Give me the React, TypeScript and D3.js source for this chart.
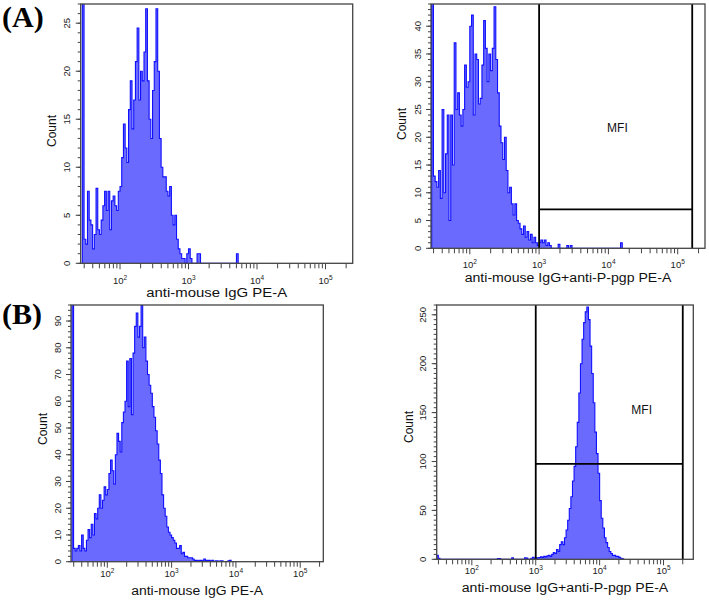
import React from 'react';
import * as d3 from 'd3';

// Histogram bins: log10 start and width of each channel bin
const BIN_START = 1.45;
const BIN_WIDTH = 0.025;

// (A) isotype control: anti-mouse IgG PE-A
const a1Counts = [
  100, 2.5, 2, 7.5, 4.5, 4, 1.5, 3, 7.8, 3.5,
  3, 4.5, 6, 7.5, 5.5, 7.5, 3.5, 6.5, 7, 6,
  5.5, 7.5, 8, 11, 14.5, 12, 10.5, 16, 19, 14,
  17, 21, 24.5, 17, 20, 19, 22, 26.5, 19, 15,
  13, 18, 21, 26.5, 20, 13, 10, 9, 9, 7.5,
  7, 8, 5, 4, 5, 2.5, 1.5, 1, 0.5, 0.5,
  0, 1, 1.5, 0.5, 0, 0, 0, 1, 1, 0,
  0, 0, 0, 0, 0, 0, 0, 0, 0, 0,
  0, 0, 0, 0, 0, 0, 0, 0, 0, 0,
  1,
];

// (A) anti-mouse IgG + anti-P-gp PE-A
const a2Counts = [
  100, 13, 12, 11, 14, 9, 25, 10, 17, 24,
  5, 24, 15, 37, 25, 28, 24, 22, 25, 33,
  29, 30, 40, 42, 24, 35, 34, 26, 27, 33,
  41, 36, 30, 35, 32, 36, 43.5, 34, 28, 22,
  19, 16, 20, 14, 10, 11, 8, 6, 8, 5,
  4.5, 3.5, 2.5, 4, 2, 3, 1.5, 2.5, 1, 2,
  1, 0.5, 1, 1.5, 1, 1.5, 0.5, 1, 0.5, 0,
  0, 0, 0, 0.7, 0, 0, 0, 0, 0.5, 0,
  0.5, 0, 0, 0, 0, 0, 0, 0, 0, 0,
  0, 0, 0, 0, 0, 0, 0, 0, 0, 0,
  0, 0, 0, 0, 0, 0, 0, 0, 0, 1,
];

// (B) isotype control: anti-mouse IgG PE-A
const b1Counts = [
  150, 5, 4, 5, 6, 4, 10, 5, 4, 8,
  12, 9, 14, 10, 18, 16, 20, 25, 20, 23,
  28, 25, 27, 33, 38, 34, 29, 40, 48, 45,
  41, 52, 56, 60, 75, 58, 76, 55, 78, 88,
  93, 84, 88, 96, 80, 84, 75, 70, 66, 63,
  58, 54, 49, 44, 38, 33, 25, 20, 17, 13,
  11, 10, 9, 8, 7, 5, 5, 6, 3, 3.5,
  2, 2, 1.5, 1.5, 1.5, 1, 0.5, 0.5, 0.3, 0.5,
  0.5, 0.3, 1, 0.5, 0.5, 0.5, 0.3, 0.5, 0, 0.3,
  0.3, 0, 0.3, 0.3, 0, 0, 0, 0.3, 0.5,
];

// (B) anti-mouse IgG + anti-P-gp PE-A
const b2Counts = [
  4, 1, 0, 0, 0, 0, 0, 0, 0, 0,
  0, 0, 0, 0, 0, 0, 0, 0, 0, 0,
  0, 0, 0, 0, 0, 0, 0, 0, 0, 0,
  0, 0, 0, 0, 0, 0, 0, 0, 0.8, 0.8,
  0, 0, 0, 0, 0, 0, 0, 1.5, 0, 0,
  0, 0, 0, 0, 0, 1.5, 1.2, 0, 0, 1,
  2, 1, 1.5, 1.5, 1.8, 2.5, 2, 3, 2.5, 3.5,
  4, 3, 5, 7, 6, 10, 8, 15, 18, 15,
  22, 30, 40, 52, 64, 80, 95, 115, 140, 170,
  200, 225, 242, 253, 258, 245, 218, 190, 160, 130,
  108, 88, 60, 42, 32, 22, 17, 12, 8, 6,
  4, 4, 3, 3, 2, 1, 0.5,
];

// MFI gates: [x from, x to] and gate level (count)
const a2GateX = [1000, 162000];
const a2GateY = 7;
const b2GateX = [1000, 200000];
const b2GateY = 97.5;

const panelLetters = ['(A)', '(B)'];
const isotypeTitle = 'anti-mouse IgG PE-A';
const pgpTitle = 'anti-mouse IgG+anti-P-pgp PE-A';
const yTitle = 'Count';
const gateLabel = 'MFI';
const decadeExps = [2, 3, 4, 5];

const SANS = '"Liberation Sans", Arial, Helvetica, sans-serif';
const FILL = '#6a6aff';
const STROKE = '#1010ff';

type PanelProps = {
  id: string;
  left: number; top: number; right: number; bottom: number;
  logLo: number; logHi: number;
  yMax: number; yMajor: number; yMinor: number;
  counts: number[];
  title: string; titleWidth: number; titleDy: number; tickDy: number;
  countX: number; countY: number;
  gateX?: number[]; gateY?: number; mfi?: [number, number];
};

function Panel(p: PanelProps) {
  const x = d3.scaleLog().domain([10 ** p.logLo, 10 ** p.logHi]).range([p.left, p.right]);
  const y = d3.scaleLinear().domain([0, p.yMax]).range([p.bottom, p.top]);

  const pts: [number, number][] = [];
  pts.push([10 ** BIN_START, 0]);
  p.counts.forEach((c, i) => {
    const x0 = 10 ** (BIN_START + i * BIN_WIDTH);
    const x1 = 10 ** (BIN_START + (i + 1) * BIN_WIDTH);
    pts.push([x0, c]);
    pts.push([x1, c]);
  });
  pts.push([10 ** (BIN_START + p.counts.length * BIN_WIDTH), 0]);

  const area = d3.area<[number, number]>().x(d => x(d[0])).y0(y(0)).y1(d => y(d[1]));
  const line = d3.line<[number, number]>().x(d => x(d[0])).y(d => y(d[1]));

  const xTicks: { v: number; major: boolean }[] = [];
  for (let n = 1; n <= 5; n++) {
    for (let m = 1; m <= 9; m++) {
      const v = m * 10 ** n;
      if (v >= 10 ** p.logLo && v <= 10 ** p.logHi) xTicks.push({ v, major: m === 1 });
    }
  }
  const yMinorTicks = d3.range(0, p.yMax + 1e-9, p.yMinor);
  const yMajorTicks = d3.range(0, p.yMax + 1e-9, p.yMajor);
  const cx = (p.left + p.right) / 2;

  return (
    <g>
      <defs>
        <clipPath id={`clip-${p.id}`}>
          <rect x={p.left} y={p.top} width={p.right - p.left} height={p.bottom - p.top} />
        </clipPath>
      </defs>
      <g clipPath={`url(#clip-${p.id})`}>
        <path d={area(pts) || ''} fill={FILL} />
        <path d={line(pts) || ''} fill="none" stroke={STROKE} strokeWidth={1.1} strokeLinejoin="miter" />
      </g>
      {p.gateX && p.gateY !== undefined && (
        <g stroke="#000" strokeWidth={1.8} fill="none">
          <line x1={x(p.gateX[0])} x2={x(p.gateX[0])} y1={p.top} y2={p.bottom} />
          <line x1={x(p.gateX[1])} x2={x(p.gateX[1])} y1={p.top} y2={p.bottom} />
          <line x1={x(p.gateX[0])} x2={x(p.gateX[1])} y1={y(p.gateY)} y2={y(p.gateY)} />
        </g>
      )}
      {p.mfi && (
        <text x={x(p.mfi[0])} y={y(p.mfi[1])} fontFamily={SANS} fontSize={12} textAnchor="middle" fill="#111">
          {gateLabel}
        </text>
      )}
      <rect x={p.left} y={p.top} width={p.right - p.left} height={p.bottom - p.top} fill="none" stroke="#444" strokeWidth={1.3} />
      {/* x ticks */}
      <g stroke="#444" strokeWidth={1}>
        {xTicks.map((t, i) => (
          <line key={i} x1={x(t.v)} x2={x(t.v)} y1={p.bottom} y2={p.bottom + (t.major ? 6 : 5)} />
        ))}
      </g>
      {decadeExps.map(e => (
        <text key={e} x={x(10 ** e)} y={p.bottom + p.tickDy} fontFamily={SANS} fontSize={9.5} textAnchor="middle" fill="#222">
          10<tspan fontSize={6.5} dy={-4}>{e}</tspan>
        </text>
      ))}
      {/* y ticks */}
      <g stroke="#444" strokeWidth={1}>
        {yMinorTicks.map((v, i) => (
          <line key={i} x1={p.left - 3} x2={p.left} y1={y(v)} y2={y(v)} />
        ))}
        {yMajorTicks.map((v, i) => (
          <line key={'M' + i} x1={p.left - 5} x2={p.left} y1={y(v)} y2={y(v)} />
        ))}
      </g>
      {yMajorTicks.map((v, i) => (
        <text key={i} transform={`translate(${p.left - 10.5},${y(v)}) rotate(-90)`} fontFamily={SANS} fontSize={9.5} textAnchor="middle" fill="#222">
          {v}
        </text>
      ))}
      <text transform={`translate(${p.countX + 4.3},${p.countY}) rotate(-90)`} fontFamily={SANS} fontSize={12} textAnchor="middle" fill="#111">
        {yTitle}
      </text>
      <text x={cx} y={p.bottom + p.titleDy} fontFamily={SANS} fontSize={12.5} textAnchor="middle" fill="#111"
        textLength={p.titleWidth} lengthAdjust="spacingAndGlyphs">
        {p.title}
      </text>
    </g>
  );
}

export default function App() {
  return (
    <svg width={709} height={600} style={{ position: 'absolute', left: 0, top: 0, background: '#fff' }}>
      <rect width={709} height={600} fill="#fff" />
      <Panel id="a1" left={80.7} top={4} right={352.7} bottom={263.3} logLo={1.426} logHi={5.397}
        yMax={27} yMajor={5} yMinor={1} counts={a1Counts}
        title={isotypeTitle} titleWidth={141} titleDy={33.5} tickDy={20.5} countX={51.7} countY={131} />
      <Panel id="a2" left={431} top={4} right={705} bottom={248.3} logLo={1.44} logHi={5.394}
        yMax={44} yMajor={5} yMinor={1} counts={a2Counts}
        title={pgpTitle} titleWidth={206.7} titleDy={33.4} tickDy={20} countX={401.7} countY={124}
        gateX={a2GateX} gateY={a2GateY} mfi={[13500, 21]} />
      <Panel id="b1" left={71} top={305} right={323.3} bottom={561.7} logLo={1.435} logHi={5.359}
        yMax={96} yMajor={10} yMinor={2} counts={b1Counts}
        title={isotypeTitle} titleWidth={132} titleDy={33.3} tickDy={15} countX={43} countY={429} />
      <Panel id="b2" left={436.7} top={305} right={693.3} bottom={559.3} logLo={1.45} logHi={5.466}
        yMax={260} yMajor={50} yMinor={5} counts={b2Counts}
        title={pgpTitle} titleWidth={206.6} titleDy={32.4} tickDy={15} countX={409} countY={427}
        gateX={b2GateX} gateY={b2GateY} mfi={[45500, 148.7]} />
      <text x={2} y={27} fontFamily='"Liberation Serif", "Times New Roman", serif' fontWeight="bold" fontSize={30} fill="#000">
        {panelLetters[0]}
      </text>
      <text x={2} y={324} fontFamily='"Liberation Serif", "Times New Roman", serif' fontWeight="bold" fontSize={30} fill="#000">
        {panelLetters[1]}
      </text>
    </svg>
  );
}
